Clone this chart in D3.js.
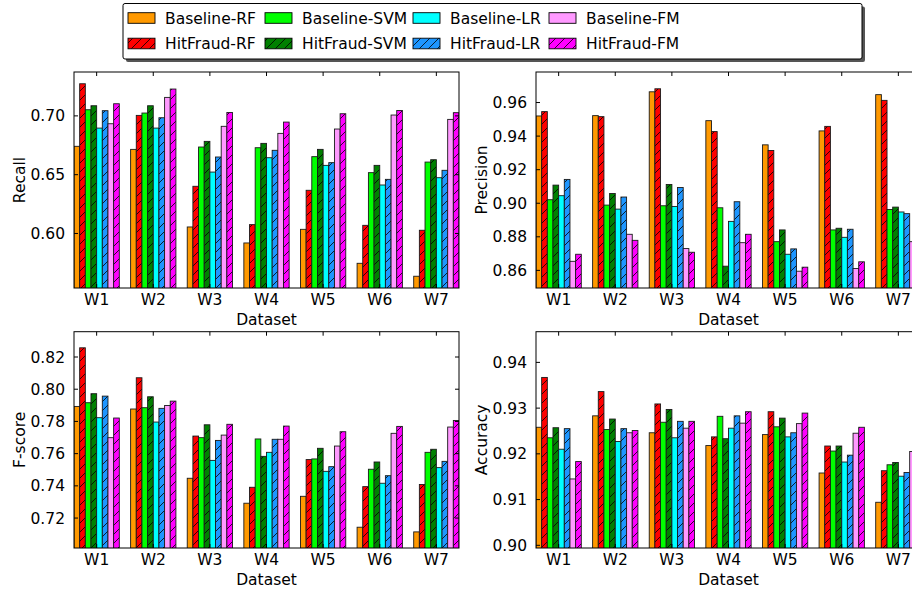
<!DOCTYPE html>
<html>
<head>
<meta charset="utf-8">
<script src="https://cdnjs.cloudflare.com/ajax/libs/d3/7.8.5/d3.min.js"></script>
<style>
  html, body { margin: 0; padding: 0; background: #fff; }
  svg { display: block; font-family: "DejaVu Sans", sans-serif; }
</style>
</head>
<body>
<svg id="chart" width="912" height="590"></svg>
<script>
// ---------- data ----------
const categories = ["W1", "W2", "W3", "W4", "W5", "W6", "W7"];
const seriesNames = ["Baseline-RF", "HitFraud-RF", "Baseline-SVM", "HitFraud-SVM",
                     "Baseline-LR", "HitFraud-LR", "Baseline-FM", "HitFraud-FM"];
const seriesColors = ["#FF9900", "#FF0000", "#00FF00", "#008000",
                      "#00FFFF", "#1E96FF", "#FF99FF", "#FF00FF"];
const seriesHatched = [false, true, false, true, false, true, false, true];

// rows = series (same order as seriesNames), columns = categories W1..W7
const recall = [
  [0.6737, 0.6711, 0.6051, 0.5915, 0.6031, 0.5742, 0.5632],
  [0.7269, 0.7000, 0.6397, 0.6071, 0.6363, 0.6065, 0.6023],
  [0.7048, 0.7020, 0.6731, 0.6725, 0.6649, 0.6513, 0.6603],
  [0.7082, 0.7082, 0.6779, 0.6762, 0.6711, 0.6575, 0.6623],
  [0.6892, 0.6892, 0.6518, 0.6640, 0.6575, 0.6408, 0.6470],
  [0.7040, 0.6980, 0.6646, 0.6703, 0.6598, 0.6456, 0.6533],
  [0.6929, 0.7153, 0.6907, 0.6847, 0.6884, 0.7003, 0.6966],
  [0.7099, 0.7224, 0.7025, 0.6943, 0.7014, 0.7042, 0.7023]
];
const precision = [
  [0.9517, 0.9519, 0.9661, 0.9489, 0.9345, 0.9428, 0.9644],
  [0.9543, 0.9513, 0.9679, 0.9424, 0.9311, 0.9455, 0.9610],
  [0.9018, 0.8986, 0.8982, 0.8970, 0.8768, 0.8838, 0.8960],
  [0.9105, 0.9055, 0.9109, 0.8622, 0.8838, 0.8848, 0.8974],
  [0.9042, 0.8962, 0.8978, 0.8889, 0.8693, 0.8794, 0.8945],
  [0.9139, 0.9034, 0.9091, 0.9006, 0.8725, 0.8842, 0.8935],
  [0.8651, 0.8812, 0.8727, 0.8762, 0.8592, 0.8608, 0.8768],
  [0.8693, 0.8776, 0.8705, 0.8812, 0.8616, 0.8648, 0.8790]
];
const fscore = [
  [0.7890, 0.7874, 0.7444, 0.7289, 0.7332, 0.7140, 0.7111],
  [0.8254, 0.8068, 0.7706, 0.7388, 0.7560, 0.7392, 0.7405],
  [0.7913, 0.7882, 0.7696, 0.7688, 0.7564, 0.7500, 0.7605],
  [0.7969, 0.7950, 0.7776, 0.7580, 0.7630, 0.7545, 0.7624],
  [0.7820, 0.7793, 0.7555, 0.7605, 0.7487, 0.7413, 0.7510],
  [0.7954, 0.7878, 0.7679, 0.7686, 0.7516, 0.7460, 0.7549],
  [0.7696, 0.7896, 0.7712, 0.7686, 0.7644, 0.7723, 0.7762],
  [0.7818, 0.7923, 0.7779, 0.7768, 0.7733, 0.7766, 0.7803]
];
const accuracy = [
  [0.9257, 0.9282, 0.9245, 0.9217, 0.9241, 0.9157, 0.9093],
  [0.9366, 0.9335, 0.9308, 0.9236, 0.9291, 0.9216, 0.9162],
  [0.9234, 0.9252, 0.9268, 0.9281, 0.9258, 0.9205, 0.9175],
  [0.9256, 0.9275, 0.9296, 0.9232, 0.9277, 0.9216, 0.9180],
  [0.9209, 0.9226, 0.9234, 0.9255, 0.9236, 0.9181, 0.9150],
  [0.9254, 0.9254, 0.9270, 0.9282, 0.9245, 0.9196, 0.9158],
  [0.9144, 0.9245, 0.9255, 0.9266, 0.9265, 0.9244, 0.9204],
  [0.9182, 0.9250, 0.9270, 0.9291, 0.9288, 0.9257, 0.9210]
];
const recallTicks = [0.60, 0.65, 0.70];
const precisionTicks = [0.86, 0.88, 0.90, 0.92, 0.94, 0.96];
const fscoreTicks = [0.72, 0.74, 0.76, 0.78, 0.80, 0.82];
const accuracyTicks = [0.90, 0.91, 0.92, 0.93, 0.94];

// ---------- layout ----------
const panels = [
  { label: "Recall",    data: recall,    ticks: recallTicks,    x0: 74,  x1: 459, y0: 72,    y1: 288 },
  { label: "Precision", data: precision, ticks: precisionTicks, x0: 536, x1: 921, y0: 72,    y1: 288 },
  { label: "F-score",   data: fscore,    ticks: fscoreTicks,    x0: 74,  x1: 459, y0: 331.7, y1: 548 },
  { label: "Accuracy",  data: accuracy,  ticks: accuracyTicks,  x0: 536, x1: 921, y0: 331.7, y1: 548 }
];
const FS = 15.5;

const svg = d3.select("#chart");
const defs = svg.append("defs");

// hatch patterns
seriesNames.forEach((n, i) => {
  if (!seriesHatched[i]) return;
  const p = defs.append("pattern")
    .attr("id", "hatch" + i)
    .attr("patternUnits", "userSpaceOnUse")
    .attr("width", 9).attr("height", 9);
  p.append("rect").attr("width", 9).attr("height", 9).attr("fill", seriesColors[i]);
  p.append("path")
    .attr("d", "M0,9 L9,0 M-2,2 L2,-2 M7,11 L11,7")
    .attr("stroke", "#000").attr("stroke-width", 0.8).attr("fill", "none");
});
const fillFor = i => seriesHatched[i] ? `url(#hatch${i})` : seriesColors[i];

panels.forEach((P, pi) => {
  const g = svg.append("g");
  const vals = P.data.flat();
  const y = d3.scaleLinear()
    .domain([d3.min(vals) - 0.01, d3.max(vals) + 0.01])
    .range([P.y1, P.y0]);
  const x = d3.scaleBand().domain(categories).range([P.x0, P.x1])
    .paddingInner(0.2).paddingOuter(0);
  const xs = d3.scaleBand().domain(d3.range(seriesNames.length))
    .range([0, x.bandwidth()]).padding(0);

  const clipId = "clip" + pi;
  defs.append("clipPath").attr("id", clipId)
    .append("rect").attr("x", P.x0).attr("y", P.y0)
    .attr("width", P.x1 - P.x0).attr("height", P.y1 - P.y0);

  g.append("rect").attr("x", P.x0).attr("y", P.y0)
    .attr("width", P.x1 - P.x0).attr("height", P.y1 - P.y0).attr("fill", "#fff");

  const bars = g.append("g").attr("clip-path", `url(#${clipId})`);
  P.data.forEach((row, si) => {
    bars.selectAll(null).data(row).enter().append("rect")
      .attr("x", (d, ci) => x(categories[ci]) + xs(si))
      .attr("y", d => y(d))
      .attr("width", xs.bandwidth())
      .attr("height", d => P.y1 + 2 - y(d))
      .attr("fill", fillFor(si))
      .attr("stroke", "#1a1a1a")
      .attr("stroke-width", 0.9);
  });

  // axes (ticks inward on all sides)
  const tl = 4;
  const axL = d3.axisLeft(y).tickValues(P.ticks).tickSize(-tl).tickPadding(tl + 5)
    .tickFormat(d3.format(".2f"));
  const axR = d3.axisRight(y).tickValues(P.ticks).tickSize(-tl).tickFormat("");
  const axB = d3.axisBottom(x).tickSize(-tl).tickPadding(tl + 5);
  const axT = d3.axisTop(x).tickSize(-tl).tickFormat("");

  const gl = g.append("g").attr("transform", `translate(${P.x0},0)`).call(axL);
  const gr = g.append("g").attr("transform", `translate(${P.x1},0)`).call(axR);
  const gb = g.append("g").attr("transform", `translate(0,${P.y1})`).call(axB);
  const gt = g.append("g").attr("transform", `translate(0,${P.y0})`).call(axT);
  [gl, gr, gb, gt].forEach(a => {
    a.select(".domain").remove();
    a.selectAll(".tick line").attr("stroke", "#000").attr("stroke-width", 1);
    a.selectAll("text").attr("font-family", "DejaVu Sans").attr("font-size", FS).attr("fill", "#000");
  });
  gl.selectAll(".tick text").attr("dy", null).attr("dominant-baseline", null)
    .attr("y", 5.6);
  gb.selectAll(".tick text").attr("dy", null).attr("y", 16.6);

  // frame
  g.append("rect").attr("x", P.x0).attr("y", P.y0)
    .attr("width", P.x1 - P.x0).attr("height", P.y1 - P.y0)
    .attr("fill", "none").attr("stroke", "#000").attr("stroke-width", 1);

  // labels
  g.append("text").attr("x", (P.x0 + P.x1) / 2).attr("y", P.y1 + 37)
    .attr("text-anchor", "middle").attr("font-size", FS).text("Dataset");
  const lx = pi % 2 === 0 ? 25 : 487;
  g.append("text")
    .attr("transform", `translate(${lx},${(P.y0 + P.y1) / 2}) rotate(-90)`)
    .attr("text-anchor", "middle").attr("font-size", FS).text(P.label);
});

// ---------- legend ----------
const lg = svg.append("g");
const LX = 123, LY = 3.5, LW = 739, LH = 55.5;
lg.append("rect").attr("x", LX + 3).attr("y", LY + 3).attr("width", LW).attr("height", LH)
  .attr("rx", 2).attr("fill", "#555");
lg.append("rect").attr("x", LX).attr("y", LY).attr("width", LW).attr("height", LH)
  .attr("rx", 2).attr("fill", "#fff").attr("stroke", "#000").attr("stroke-width", 1);
const colPatch = [128, 265, 413, 549];
const rowY = [18, 43.5];
seriesNames.forEach((n, i) => {
  const c = Math.floor(i / 2), r = i % 2;
  lg.append("rect").attr("x", colPatch[c]).attr("y", rowY[r] - 5.3)
    .attr("width", 27).attr("height", 10.6)
    .attr("fill", fillFor(i)).attr("stroke", "#000").attr("stroke-width", 0.9);
  lg.append("text").attr("x", colPatch[c] + 37).attr("y", rowY[r] + 5.6)
    .attr("font-size", FS).text(n);
});
</script>
</body>
</html>
